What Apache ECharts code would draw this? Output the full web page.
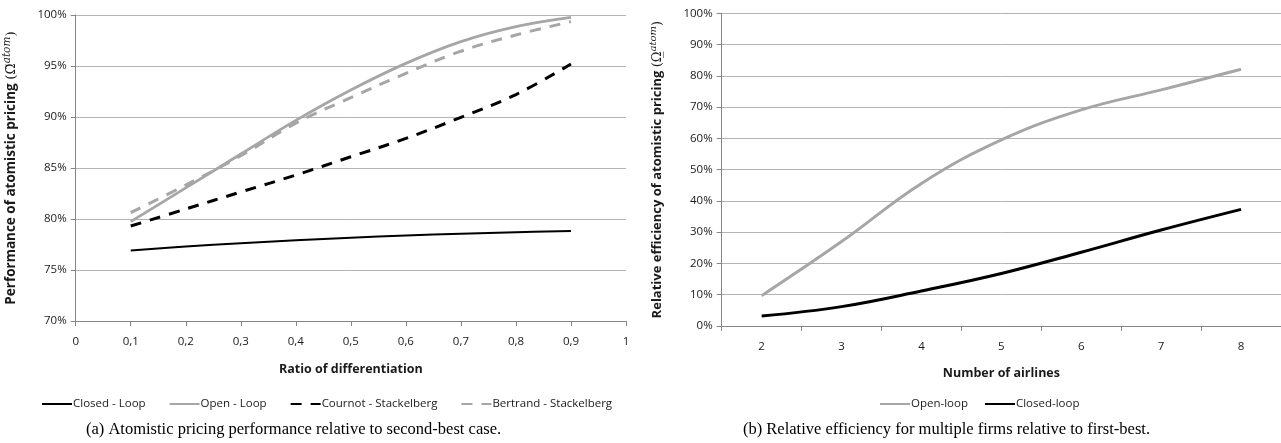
<!DOCTYPE html>
<html>
<head>
<meta charset="utf-8">
<script src="https://cdn.jsdelivr.net/npm/echarts@6/dist/echarts.min.js"></script>
<style>
html,body{margin:0;padding:0;background:#fff;}
#c{width:1281px;height:443px;}
</style>
</head>
<body>
<div id="c"></div>
<script>
// ---- Panel (a) data ----
var diffRatios = [0.1, 0.2, 0.3, 0.4, 0.5, 0.6, 0.7, 0.8, 0.9];
var closedLoopA = [76.9, 77.3, 77.63, 77.92, 78.17, 78.38, 78.55, 78.7, 78.82];
var openLoopA = [79.74, 83.05, 86.37, 89.67, 92.65, 95.26, 97.39, 98.86, 99.77];
var cournotStack = [79.31, 80.98, 82.65, 84.31, 86.1, 87.9, 89.97, 92.2, 95.2];
var bertrandStack = [80.62, 83.33, 86.2, 89.4, 91.9, 94.28, 96.45, 98.04, 99.35];
var xTickLabelsA = ['0', '0,1', '0,2', '0,3', '0,4', '0,5', '0,6', '0,7', '0,8', '0,9', '1'];

// ---- Panel (b) data ----
var airlines = ['2', '3', '4', '5', '6', '7', '8'];
var openLoopB = [9.7, 27.0, 45.6, 59.5, 69.1, 75.5, 82.1];
var closedLoopB = [3.2, 6.2, 11.2, 16.8, 23.6, 30.7, 37.3];

function pairs(xs, ys) { return xs.map(function (x, i) { return [x, ys[i]]; }); }

var GRAY = '#a6a6a6';
var AXIS = '#868686';
var GRID = '#b3b3b3';
var LBL = '#1a1a1a';
var FONT = '"Open Sans", "Liberation Sans", sans-serif';

var chart = echarts.init(document.getElementById('c'), null, {renderer: 'canvas'});

function nameRich(sz) {
  return {
    b: {fontFamily: FONT, fontWeight: 'bold', fontSize: sz, color: LBL},
    n: {fontFamily: '"DejaVu Serif", serif', fontSize: sz, color: LBL},
    s: {fontFamily: '"DejaVu Serif", serif', fontStyle: 'italic', fontSize: sz - 3, color: LBL, padding: [0, 0, 8, 0]}
  };
}

var option = {
  animation: false,
  backgroundColor: '#fff',
  grid: [
    {left: 75.7, right: 655, top: 15, height: 306},
    {left: 721.7, right: 0, top: 13.3, height: 312.7}
  ],
  legend: [
    {
      data: ['Closed - Loop', 'Open - Loop', 'Cournot - Stackelberg', 'Bertrand - Stackelberg'],
      left: 36, top: 393,
      itemWidth: 30, itemHeight: 10, itemGap: 23,
      itemStyle: {opacity: 0},
      textStyle: {fontFamily: FONT, fontSize: 11.5, color: LBL, padding: [0, 0, 0, -4]}
    },
    {
      data: ['Open-loop', 'Closed-loop'],
      left: 874, top: 393,
      itemWidth: 30, itemHeight: 10, itemGap: 16,
      itemStyle: {opacity: 0},
      textStyle: {fontFamily: FONT, fontSize: 11.5, color: LBL, padding: [0, 0, 0, -4]}
    }
  ],
  xAxis: [
    {
      gridIndex: 0, type: 'value', min: 0, max: 1, interval: 0.1,
      name: 'Ratio of differentiation', nameLocation: 'middle', nameGap: 42,
      nameTextStyle: {fontFamily: FONT, fontWeight: 'bold', fontSize: 12.5, color: LBL},
      axisLine: {show: true, lineStyle: {color: AXIS, width: 1}},
      axisTick: {show: true, length: 5, lineStyle: {color: AXIS}},
      splitLine: {show: false},
      axisLabel: {
        margin: 15, fontFamily: FONT, fontSize: 11.5, color: LBL,
        formatter: function (v) { return xTickLabelsA[Math.round(v * 10)]; }
      }
    },
    {
      gridIndex: 1, type: 'category', data: airlines, boundaryGap: true,
      name: 'Number of airlines', nameLocation: 'middle', nameGap: 41,
      nameTextStyle: {fontFamily: FONT, fontWeight: 'bold', fontSize: 12.5, color: LBL},
      axisLine: {show: true, lineStyle: {color: AXIS, width: 1}},
      axisTick: {show: true, length: 5, alignWithLabel: false, lineStyle: {color: AXIS}},
      splitLine: {show: false},
      axisLabel: {margin: 15, fontFamily: FONT, fontSize: 11.5, color: LBL}
    }
  ],
  yAxis: [
    {
      gridIndex: 0, type: 'value', min: 70, max: 100, interval: 5,
      name: '{b|Performance of atomistic pricing }{n|(Ω̃}{s|atom}{n|)}',
      nameLocation: 'middle', nameGap: 55, nameRotate: 90,
      nameTextStyle: {rich: nameRich(13.5)},
      axisLine: {show: true, lineStyle: {color: AXIS, width: 1}},
      axisTick: {show: true, length: 5, lineStyle: {color: AXIS}},
      splitLine: {show: true, lineStyle: {color: GRID, width: 1}},
      axisLabel: {margin: 9, fontFamily: FONT, fontSize: 11.5, color: LBL, formatter: '{value}%'}
    },
    {
      gridIndex: 1, type: 'value', min: 0, max: 100, interval: 10,
      name: '{b|Relative efficiency of atomistic pricing }{n|(Ω̲}{s|atom}{n|)}',
      nameLocation: 'middle', nameGap: 55, nameRotate: 90,
      nameTextStyle: {rich: nameRich(13)},
      axisLine: {show: true, lineStyle: {color: AXIS, width: 1}},
      axisTick: {show: true, length: 5, lineStyle: {color: AXIS}},
      splitLine: {show: true, lineStyle: {color: GRID, width: 1}},
      axisLabel: {margin: 9, fontFamily: FONT, fontSize: 11.5, color: LBL, formatter: '{value}%'}
    }
  ],
  series: [
    {name: 'Closed - Loop', type: 'line', xAxisIndex: 0, yAxisIndex: 0, smooth: 0.4, symbol: 'none',
     data: pairs(diffRatios, closedLoopA), lineStyle: {color: '#000', width: 2}, itemStyle: {color: '#000'}},
    {name: 'Open - Loop', type: 'line', xAxisIndex: 0, yAxisIndex: 0, smooth: 0.4, symbol: 'none',
     data: pairs(diffRatios, openLoopA), lineStyle: {color: GRAY, width: 2.8}, itemStyle: {color: GRAY}},
    {name: 'Cournot - Stackelberg', type: 'line', xAxisIndex: 0, yAxisIndex: 0, smooth: 0.4, symbol: 'none',
     data: pairs(diffRatios, cournotStack), lineStyle: {color: '#000', width: 3, type: [11, 9]}, itemStyle: {color: '#000'}},
    {name: 'Bertrand - Stackelberg', type: 'line', xAxisIndex: 0, yAxisIndex: 0, smooth: 0.4, symbol: 'none',
     data: pairs(diffRatios, bertrandStack), lineStyle: {color: GRAY, width: 3, type: [11, 9]}, itemStyle: {color: GRAY}},
    {name: 'Open-loop', type: 'line', xAxisIndex: 1, yAxisIndex: 1, smooth: 0.4, symbol: 'none',
     data: openLoopB, lineStyle: {color: GRAY, width: 3}, itemStyle: {color: GRAY}},
    {name: 'Closed-loop', type: 'line', xAxisIndex: 1, yAxisIndex: 1, smooth: 0.4, symbol: 'none',
     data: closedLoopB, lineStyle: {color: '#000', width: 3}, itemStyle: {color: '#000'}}
  ],
  graphic: [
    {type: 'text', left: 86, top: 421,
     style: {text: '(a) Atomistic pricing performance relative to second-best case.', font: '16.5px "Liberation Serif", "DejaVu Serif", serif', fill: '#000'}},
    {type: 'text', left: 743, top: 421,
     style: {text: '(b) Relative efficiency for multiple firms relative to first-best.', font: '16.5px "Liberation Serif", "DejaVu Serif", serif', fill: '#000'}}
  ]
};
chart.setOption(option);
</script>
</body>
</html>
